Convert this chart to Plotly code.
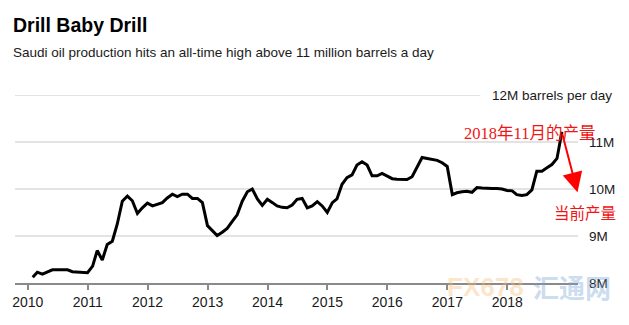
import plotly.graph_objects as go
import pandas as pd

# Saudi crude production, million barrels per day, monthly Jan 2010 - Nov 2018
production = [
    8.12, 8.23, 8.19, 8.24, 8.28, 8.28, 8.28, 8.28, 8.24, 8.23, 8.23, 8.22,
    8.36, 8.69, 8.49, 8.82, 8.89, 9.25, 9.74, 9.85, 9.75, 9.48, 9.60, 9.70,
    9.64, 9.68, 9.71, 9.81, 9.89, 9.84, 9.89, 9.89, 9.80, 9.80, 9.71, 9.22,
    9.11, 9.01, 9.08, 9.16, 9.31, 9.45, 9.74, 9.94, 10.00, 9.79, 9.65, 9.78,
    9.71, 9.64, 9.61, 9.60, 9.66, 9.78, 9.80, 9.60, 9.64, 9.73, 9.64, 9.50,
    9.71, 9.79, 10.10, 10.24, 10.30, 10.51, 10.58, 10.51, 10.28, 10.28, 10.33, 10.27,
    10.22, 10.21, 10.20, 10.20, 10.26, 10.46, 10.67, 10.65, 10.63, 10.61, 10.56, 10.48,
    9.88, 9.92, 9.94, 9.95, 9.93, 10.03, 10.02, 10.01, 10.01, 10.01, 10.00, 9.97,
    9.96, 9.88, 9.86, 9.88, 9.98, 10.38, 10.38, 10.45, 10.52, 10.65, 11.22,
]
months = pd.date_range("2010-01-31", periods=len(production), freq="ME")

year_ticks = [f"{y}-01-01" for y in range(2010, 2019)]
year_labels = [str(y) for y in range(2010, 2019)]

y_levels = [8, 9, 10, 11]
y_level_labels = ["8M", "9M", "10M", "11M"]
top_level = 12
top_label = "12M barrels per day"

title = "Drill Baby Drill"
subtitle = "Saudi oil production hits an all-time high above 11 million barrels a day"
note_peak = "2018年11月的产量"
note_now = "当前产量"

fig = go.Figure()
fig.add_trace(go.Scatter(
    x=months, y=production, mode="lines",
    line=dict(color="#000000", width=3),
    hoverinfo="skip", showlegend=False,
))

shapes = []
for v in y_levels[1:]:
    shapes.append(dict(type="line", xref="paper", yref="y", x0=0, x1=1, y0=v, y1=v,
                       line=dict(color="#dadada", width=1.5), layer="below"))
shapes.append(dict(type="line", xref="paper", yref="y", x0=0, x1=0.8265, y0=top_level, y1=top_level,
                   line=dict(color="#dadada", width=1.5), layer="below"))

annotations = []
for v, lab in zip(y_levels, y_level_labels):
    annotations.append(dict(xref="paper", yref="y", x=1, y=v, xshift=9, text=lab, showarrow=False,
                            xanchor="left", yanchor="middle",
                            font=dict(family="Liberation Sans, Arial", size=13.5, color="#1a1a1a")))
annotations.append(dict(xref="paper", yref="y", x=1.0637, y=top_level, text=top_label, showarrow=False,
                        xanchor="right", yanchor="middle",
                        font=dict(family="Liberation Sans, Arial", size=13.5, color="#1a1a1a")))
annotations.append(dict(xref="paper", yref="paper", x=0, xshift=-4, y=1.372, text=f"<b>{title}</b>",
                        showarrow=False, xanchor="left", yanchor="middle",
                        font=dict(family="Liberation Sans, Arial", size=19.5, color="#000000")))
annotations.append(dict(xref="paper", yref="paper", x=0, xshift=-4, y=1.2287, text=subtitle,
                        showarrow=False, xanchor="left", yanchor="middle",
                        font=dict(family="Liberation Sans, Arial", size=13.5, color="#1a1a1a")))
# watermark
annotations.append(dict(xref="paper", yref="paper", x=0.835, y=-0.021, text="<b>FX678</b>",
                        showarrow=False, xanchor="center", yanchor="middle",
                        font=dict(family="Liberation Sans, Arial", size=26, color="rgba(246,190,120,0.40)")))
annotations.append(dict(xref="paper", yref="paper", x=0.989, y=-0.021, text="<b>汇通网</b>",
                        showarrow=False, xanchor="center", yanchor="middle",
                        font=dict(family="Noto Sans CJK SC", size=26, color="rgba(120,165,215,0.40)")))
# red arrow
annotations.append(dict(xref="x", yref="y", x="2019-03-05", y=9.93,
                        axref="x", ayref="y", ax=months[-1].strftime("%Y-%m-%d"), ay=production[-1] - 0.02,
                        text="", showarrow=True, arrowhead=2, arrowsize=2, arrowwidth=2,
                        arrowcolor="#ff0000", standoff=0, startstandoff=0))
annotations.append(dict(xref="paper", yref="y", x=0.9145, y=11.19, text=note_peak, showarrow=False,
                        xanchor="center", yanchor="middle",
                        font=dict(family="Liberation Serif, Noto Sans CJK SC", size=16.5, color="#f01414")))
annotations.append(dict(xref="paper", yref="y", x=1.0124, y=9.51, text=note_now, showarrow=False,
                        xanchor="center", yanchor="middle",
                        font=dict(family="Noto Sans CJK SC", size=15.5, color="#f01414")))

fig.update_layout(
    width=629, height=325,
    margin=dict(l=13, r=51, t=95, b=42),
    paper_bgcolor="white", plot_bgcolor="white",
    shapes=shapes, annotations=annotations,
    xaxis=dict(
        type="date", range=["2009-10-15", "2019-03-08"],
        tickvals=year_ticks, ticktext=year_labels,
        showgrid=False, zeroline=False,
        showline=True, linecolor="#8a8a8a", linewidth=2,
        ticks="outside", ticklen=5, tickwidth=1.5, tickcolor="#8a8a8a",
        tickfont=dict(family="Liberation Sans, Arial", size=14, color="#1a1a1a"),
        fixedrange=True,
    ),
    yaxis=dict(
        range=[8, 12], showgrid=False, zeroline=False, showticklabels=False,
        showline=False, fixedrange=True,
    ),
)

fig.write_html("out.html")
